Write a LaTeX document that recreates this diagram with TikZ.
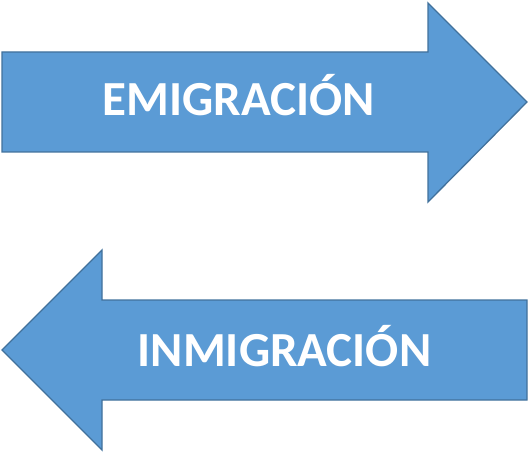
\documentclass[tikz,border=0pt]{standalone}
\usepackage{fontspec}
\setmainfont{Carlito}
\definecolor{arrowfill}{HTML}{5B9BD5}
\definecolor{arrowline}{HTML}{41719C}
\tikzset{
  bigarrow/.style = {fill = arrowfill, draw = arrowline, line width = 1.3pt, line join = miter},
  label/.style = {text = white, font = \fontsize{49}{59}\selectfont\bfseries, inner sep = 0pt, anchor = base}
}
\begin{document}
\begin{tikzpicture}[x = 1pt, y = -1pt]
                    \useasboundingbox (0, 0) rectangle (529, 454);
                    \draw[bigarrow] (2, 52) -- (428, 52) -- (428, 3) -- (527, 102)
                        -- (428, 202) -- (428, 152) -- (2, 152) -- cycle;
                    \draw[bigarrow] (2, 350) -- (102, 250) -- (102, 300) -- (527, 300)
                        -- (527, 400) -- (102, 400) -- (102, 450) -- cycle;
                    
                    \node[label] (Emig) at (238.5, 116) {EMIGRACIÓN};
                    \node[label] (Inmig) at (284.5, 366) {INMIGRACIÓN};
                \end{tikzpicture}
\end{document}
